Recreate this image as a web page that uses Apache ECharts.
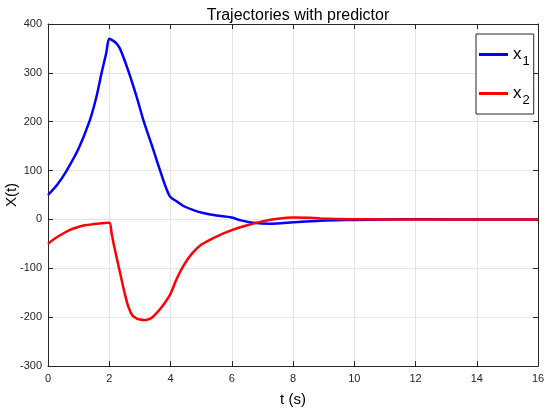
<!DOCTYPE html>
<html>
<head>
<meta charset="utf-8">
<script src="https://cdn.jsdelivr.net/npm/echarts@6/dist/echarts.min.js"></script>
<style>html,body{margin:0;padding:0;background:#fff;}#c{width:550px;height:409px;}</style>
</head>
<body>
<div id="c"></div>
<script>
var titleText = 'Trajectories with predictor';
var xName = 't (s)';
var yName = 'X(t)';
var seriesNames = ['x1', 'x2'];
var xTicks = {min: 0, max: 16, step: 2};
var yTicks = {min: -300, max: 400, step: 100};

var x1Data = [
  [0, 50], [0.3, 71], [0.6, 99], [1.0, 145], [1.35, 200], [1.57, 248], [1.75, 300], [1.9, 340], [2.0, 370],
  [2.12, 366], [2.24, 360], [2.32, 353], [2.42, 339], [2.645, 300], [2.9, 250], [3.13, 200],
  [3.4, 150], [3.66, 100], [3.97, 48],
  [4.2, 37], [4.44, 27], [4.75, 19], [5.07, 13], [5.5, 8], [6.0, 4], [6.3, -2], [6.7, -7],
  [7.25, -9], [7.6, -8], [8.0, -6], [8.9, -2.5], [10, -1], [11, 0], [12, 0.5], [13, 0], [14, 0], [15, 0], [16, 0]
];
var x2Data = [
  [0, -50], [0.2, -40], [0.41, -32], [0.7, -22], [0.96, -16], [1.2, -12], [1.49, -9.5], [1.75, -8], [2.0, -7],
  [2.08, -30], [2.17, -58], [2.32, -100], [2.5, -150], [2.62, -178], [2.75, -196], [2.9, -203],
  [3.0, -205], [3.13, -206], [3.25, -205], [3.41, -200], [3.6, -188], [3.8, -172], [4.0, -152],
  [4.2, -122], [4.44, -93], [4.7, -70], [5.0, -52], [5.5, -35], [6.0, -22], [6.5, -12], [7.0, -4],
  [7.5, 1.5], [8.0, 4], [8.5, 3.5], [8.9, 2], [9.9, 0.5], [11, 0], [12, 0], [13, 0], [14, 0], [15, 0], [16, 0]
];

var axisColor = '#262626';
var gridColor = '#e5e5e5';
var font = 'Liberation Sans, Arial, Helvetica, sans-serif';

var chart = echarts.init(document.getElementById('c'));
chart.setOption({
  backgroundColor: '#fff',
  animation: false,
  title: {
    text: titleText, left: 293, top: 3, textAlign: 'center',
    textStyle: {fontFamily: font, fontSize: 16, fontWeight: 'normal', color: '#000'}
  },
  grid: {left: 48, right: 12, top: 24, bottom: 43, containLabel: false, outerBoundsMode: 'none'},
  legend: {
    orient: 'vertical', left: 476, top: 34, width: 55,
    padding: [7, 4, 7, 3], itemGap: 12,
    borderColor: axisColor, borderWidth: 1, backgroundColor: '#fff',
    icon: 'rect', itemWidth: 29, itemHeight: 3,
    data: seriesNames,
    formatter: function (n) { return '{a|' + n.charAt(0) + '}{b|' + n.slice(1) + '}'; },
    textStyle: {
      fontFamily: font, color: '#000',
      rich: {
        a: {fontSize: 17, fontFamily: font, color: '#000', lineHeight: 20},
        b: {fontSize: 13, fontFamily: font, color: '#000', padding: [14, 0, 0, 1], lineHeight: 20}
      }
    }
  },
  xAxis: [{
    type: 'value', min: xTicks.min, max: xTicks.max, interval: xTicks.step,
    name: xName, nameLocation: 'middle', nameGap: 26, nameMoveOverlap: false,
    nameTextStyle: {fontFamily: font, fontSize: 15, color: '#000'},
    axisLine: {show: true, onZero: false, lineStyle: {color: axisColor, width: 1}},
    axisTick: {show: true, inside: true, length: 5, lineStyle: {color: axisColor}},
    axisLabel: {fontFamily: font, fontSize: 11, color: axisColor, margin: 7},
    splitLine: {show: true, lineStyle: {color: gridColor, width: 1}}
  }, {
    type: 'value', position: 'top', min: xTicks.min, max: xTicks.max, interval: xTicks.step,
    axisLine: {show: true, onZero: false, lineStyle: {color: axisColor, width: 1}},
    axisTick: {show: true, inside: true, length: 5, lineStyle: {color: axisColor}},
    axisLabel: {show: false}, splitLine: {show: false}
  }],
  yAxis: [{
    type: 'value', min: yTicks.min, max: yTicks.max, interval: yTicks.step,
    name: yName, nameLocation: 'middle', nameGap: 29, nameMoveOverlap: false,
    nameTextStyle: {fontFamily: font, fontSize: 15, color: '#000'},
    axisLine: {show: true, onZero: false, lineStyle: {color: axisColor, width: 1}},
    axisTick: {show: true, inside: true, length: 5, lineStyle: {color: axisColor}},
    axisLabel: {fontFamily: font, fontSize: 11, color: axisColor, margin: 6},
    splitLine: {show: true, lineStyle: {color: gridColor, width: 1}}
  }, {
    type: 'value', position: 'right', min: yTicks.min, max: yTicks.max, interval: yTicks.step,
    axisLine: {show: true, onZero: false, lineStyle: {color: axisColor, width: 1}},
    axisTick: {show: true, inside: true, length: 5, lineStyle: {color: axisColor}},
    axisLabel: {show: false}, splitLine: {show: false}
  }],
  series: [{
    name: seriesNames[0], type: 'line', data: x1Data, showSymbol: false,
    smooth: 0.3,
    lineStyle: {color: '#0000ff', width: 2.5}, itemStyle: {color: '#0000ff'}
  }, {
    name: seriesNames[1], type: 'line', data: x2Data, showSymbol: false,
    smooth: 0.3,
    lineStyle: {color: '#ff0000', width: 2.5}, itemStyle: {color: '#ff0000'}
  }]
});
</script>
</body>
</html>
